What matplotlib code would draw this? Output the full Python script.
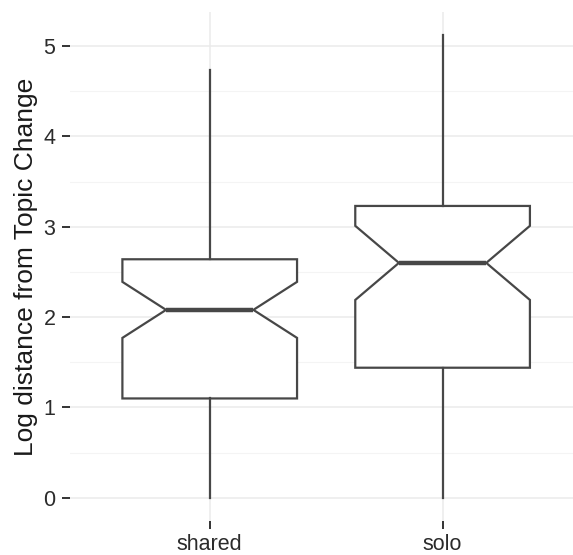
import matplotlib
matplotlib.use("Agg")
import matplotlib.pyplot as plt
from matplotlib.ticker import MultipleLocator

categories = ["shared", "solo"]
q1 = [1.10, 1.44]
median = [2.08, 2.60]
q3 = [2.64, 3.23]
notch_lo = [1.77, 2.19]
notch_hi = [2.39, 3.01]
whisker_lo = [0.0, 0.0]
whisker_hi = [4.73, 5.12]
y_ticks = [0, 1, 2, 3, 4, 5]

plt.rcParams['font.family'] = ['Liberation Sans', 'DejaVu Sans']

fig = plt.figure(figsize=(5.73, 5.55), dpi=100)
ax = fig.add_axes([70/573, 34/555, 503/573, 509/555])

stats = []
for i, c in enumerate(categories):
    stats.append(dict(label=c, med=median[i], q1=q1[i], q3=q3[i],
                      cilo=notch_lo[i], cihi=notch_hi[i],
                      whislo=whisker_lo[i], whishi=whisker_hi[i], fliers=[]))

lc = "#474747"
ax.bxp(stats, positions=[1, 2], widths=0.75, shownotches=True, showcaps=False,
       showfliers=False, patch_artist=True,
       boxprops=dict(facecolor="white", edgecolor=lc, linewidth=1.6),
       whiskerprops=dict(color=lc, linewidth=1.6),
       medianprops=dict(color=lc, linewidth=3.2, solid_capstyle='butt'),
       zorder=3)

ax.set_xlim(0.4, 2.56)
ax.set_ylim(-0.256, 5.376)
ax.set_yticks(y_ticks)
ax.yaxis.set_minor_locator(MultipleLocator(0.5))
ax.set_xticks([1, 2])
ax.set_xticklabels(categories)

ax.grid(True, which='major', color="#ebebeb", linewidth=1.1, zorder=0)
ax.grid(True, which='minor', axis='y', color="#f4f4f4", linewidth=0.8, zorder=0)
ax.tick_params(axis='y', which='minor', length=0)
ax.tick_params(axis='both', which='major', length=5.5, width=1.4, color="#333333",
               labelsize=15.5, labelcolor="#2b2b2b")
ax.tick_params(axis='y', pad=5)
ax.tick_params(axis='x', pad=4)
for s in ax.spines.values():
    s.set_visible(False)
ax.set_axisbelow(True)

ax.set_ylabel("Log distance from Topic Change", fontsize=19, color="#1a1a1a", labelpad=4)

fig.savefig("out.png", dpi=100)
